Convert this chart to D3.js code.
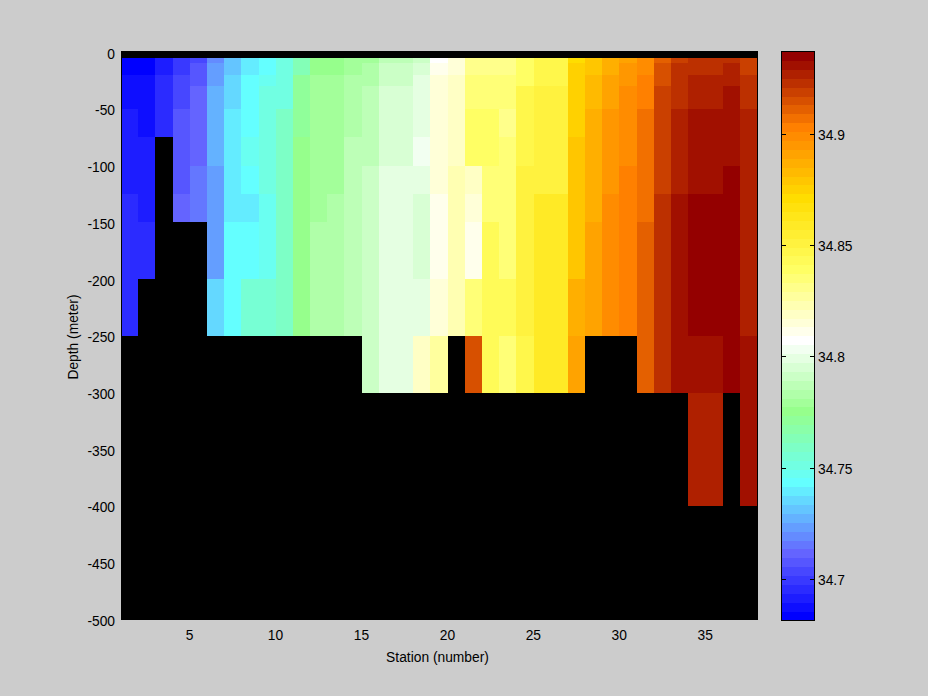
<!DOCTYPE html>
<html><head><meta charset="utf-8">
<script src="https://cdnjs.cloudflare.com/ajax/libs/d3/7.8.5/d3.min.js"></script>
<style>
html,body{margin:0;padding:0;background:#ccc;overflow:hidden}
svg{display:block}
text{font-family:"Liberation Sans",Arial,sans-serif;font-size:13.8px;fill:#000}
</style></head><body><svg id="c" width="928" height="696"></svg>
<script>
// Depth layer edges (metres); the first layer is empty
const depthEdges=[0,5,10,20,30,50,75,100,125,150,200,250,300,400,500];
const xTicks=[5,10,15,20,25,30,35];
const yTicks=[0,-50,-100,-150,-200,-250,-300,-350,-400,-450,-500];
const cbTicks=[34.7,34.75,34.8,34.85,34.9];
const salinityRange=[34.6817,34.9368];
const mapLevels=[0,7,15,23,31,39,47,55,63];
const mapColors=["#0000ff","#6464ff","#64ffff","#96ff8c","#ffffff","#ffff64","#ffdd00","#ff8000","#940000"];
// Salinity per station, top layer downward; null / missing = no data
const st1=[34.684,34.684,34.688,34.688,34.692,34.692,34.692,34.696,34.696,34.696];
const st2=[34.684,34.684,34.688,34.688,34.688,34.692,34.692,34.692,34.696];
const st3=[34.692,34.692,34.696,34.696,34.696];
const st4=[34.700,34.700,34.704,34.704,34.708,34.708,34.708,34.712];
const st5=[34.704,34.708,34.708,34.712,34.712,34.712,34.716,34.716];
const st6=[34.720,34.724,34.724,34.728,34.728,34.728,34.724,34.724,34.724,34.736];
const st7=[34.732,34.732,34.736,34.736,34.740,34.740,34.740,34.740,34.744,34.744];
const st8=[34.740,34.740,34.744,34.744,34.744,34.748,34.744,34.740,34.744,34.756];
const st9=[34.744,34.744,34.748,34.752,34.752,34.752,34.752,34.748,34.748,34.756];
const st10=[34.752,34.752,34.752,34.752,34.760,34.760,34.760,34.760,34.760,34.760];
const st11=[34.764,34.764,34.772,34.772,34.772,34.776,34.776,34.776,34.776,34.776];
const st12=[34.776,34.776,34.780,34.780,34.780,34.780,34.780,34.780,34.784,34.784];
const st13=[34.776,34.776,34.780,34.780,34.780,34.780,34.780,34.784,34.784,34.784];
const st14=[34.780,34.780,34.784,34.784,34.784,34.788,34.788,34.788,34.788,34.788];
const st15=[34.780,34.784,34.784,34.788,34.788,34.788,34.792,34.792,34.792,34.792,34.792];
const st16=[34.788,34.792,34.792,34.796,34.796,34.796,34.800,34.800,34.800,34.800,34.800];
const st17=[34.788,34.792,34.792,34.796,34.796,34.796,34.800,34.800,34.800,34.800,34.800];
const st18=[34.792,34.796,34.800,34.800,34.800,34.804,34.800,34.796,34.796,34.800,34.820];
const st19=[34.808,34.812,34.816,34.816,34.816,34.816,34.816,34.812,34.812,34.816,34.828];
const st20=[34.816,34.816,34.820,34.820,34.820,34.820,34.824,34.824,34.824,34.824,null];
const st21=[34.832,34.832,34.836,34.836,34.840,34.840,34.820,34.816,34.812,34.836,34.916];
const st22=[34.832,34.832,34.836,34.836,34.840,34.840,34.836,34.836,34.844,34.844,34.844];
const st23=[34.832,34.832,34.836,34.836,34.832,34.836,34.836,34.836,34.836,34.844,34.836];
const st24=[34.840,34.840,34.840,34.848,34.848,34.848,34.852,34.852,34.852,34.852,34.848];
const st25=[34.848,34.848,34.848,34.852,34.852,34.852,34.852,34.860,34.860,34.860,34.860];
const st26=[34.848,34.848,34.848,34.852,34.852,34.852,34.852,34.860,34.860,34.860,34.860];
const st27=[34.872,34.876,34.876,34.876,34.876,34.880,34.880,34.880,34.880,34.888,34.892];
const st28=[34.880,34.880,34.884,34.884,34.888,34.888,34.888,34.888,34.892,34.892];
const st29=[34.888,34.888,34.892,34.892,34.896,34.896,34.896,34.900,34.900,34.900];
const st30=[34.892,34.896,34.896,34.900,34.900,34.900,34.904,34.904,34.904,34.904];
const st31=[34.900,34.900,34.904,34.904,34.908,34.908,34.908,34.908,34.912,34.912,34.912];
const st32=[34.912,34.916,34.916,34.920,34.920,34.920,34.920,34.924,34.924,34.924,34.924];
const st33=[34.920,34.924,34.924,34.924,34.928,34.928,34.928,34.932,34.932,34.932,34.932];
const st34=[34.924,34.924,34.928,34.928,34.932,34.932,34.932,34.936,34.936,34.936,34.932,34.928];
const st35=[34.924,34.924,34.928,34.928,34.932,34.932,34.932,34.936,34.936,34.936,34.932,34.928];
const st36=[34.924,34.928,34.928,34.932,34.932,34.932,34.936,34.936,34.936,34.936,34.936];
const st37=[34.920,34.920,34.924,34.924,34.928,34.928,34.928,34.928,34.928,34.928,34.932,34.932];
const stations=[st1,st2,st3,st4,st5,st6,st7,st8,st9,st10,st11,st12,st13,st14,st15,st16,st17,st18,st19,st20,st21,st22,st23,st24,st25,st26,st27,st28,st29,st30,st31,st32,st33,st34,st35,st36,st37];

const svg=d3.select("#c");
const x=d3.scaleLinear().domain([1,38]).range([121,757]);
const y=d3.scaleLinear().domain([0,-500]).range([52,620]);
const yLabel=d3.scaleLinear().domain([0,-500]).range([53.8,621]);
const ramp=d3.scaleLinear().domain(mapLevels).range(mapColors).interpolate(d3.interpolateRgb);
const palette=d3.range(64).map(i=>ramp(i));
const color=d3.scaleQuantize().domain(salinityRange).range(palette);
const cbY=d3.scaleLinear().domain(salinityRange).range([620,51.7]);

// plot background shows where there is no data
svg.append("rect").attr("x",x(1)).attr("y",y(0)-1).attr("width",x(38)-x(1)).attr("height",y(-500)-y(0)+1).attr("fill","#000");

const cells=[];
stations.forEach((col,i)=>col.forEach((v,j)=>{if(v!=null)cells.push({i,j,v});}));
svg.append("g").attr("shape-rendering","crispEdges").selectAll("rect").data(cells).join("rect")
  .attr("x",d=>Math.round(x(d.i+1)))
  .attr("width",d=>Math.round(x(d.i+2))-Math.round(x(d.i+1)))
  .attr("y",d=>Math.round(y(-depthEdges[d.j+1])))
  .attr("height",d=>Math.round(y(-depthEdges[d.j+2]))-Math.round(y(-depthEdges[d.j+1])))
  .attr("fill",d=>color(d.v));

svg.append("rect").attr("x",x(1)+.5).attr("y",y(0)-.5).attr("width",x(38)-x(1)).attr("height",y(-500)-y(0))
  .attr("fill","none").attr("stroke","#000").attr("shape-rendering","crispEdges");

const gx=svg.append("g").attr("transform",`translate(-0.7,${y(-500)+0.5})`).call(d3.axisBottom(x).tickValues(xTicks).tickSize(0).tickPadding(10).tickFormat(d3.format("d")));
const gy=svg.append("g").attr("transform",`translate(${x(1)},0)`).call(d3.axisLeft(yLabel).tickValues(yTicks).tickSize(0).tickPadding(6).tickFormat(d=>String(d)));
[gx,gy].forEach(g=>{g.select(".domain").remove();g.selectAll("text").style("font-size","13.8px").style("font-family",'"Liberation Sans"');});

svg.append("text").attr("x",437.5).attr("y",662).attr("text-anchor","middle").text("Station (number)");
svg.append("text").attr("transform","translate(78,337) rotate(-90)").attr("text-anchor","middle").text("Depth (meter)");

// colour bar
const step=(salinityRange[1]-salinityRange[0])/64;
svg.append("g").attr("shape-rendering","crispEdges").selectAll("rect").data(palette).join("rect")
  .attr("x",781).attr("width",33)
  .attr("y",(d,i)=>cbY(salinityRange[0]+step*(i+1)))
  .attr("height",Math.abs(cbY(0)-cbY(step))+.5)
  .attr("fill",d=>d);
svg.append("rect").attr("x",781.5).attr("y",51.5).attr("width",33).attr("height",568.5)
  .attr("fill","none").attr("stroke","#000").attr("shape-rendering","crispEdges");
const cb=svg.append("g").selectAll("g").data(cbTicks).join("g").attr("transform",d=>`translate(0,${Math.round(cbY(d))+.5})`);
cb.append("line").attr("x1",782).attr("x2",786).attr("stroke","#000").attr("shape-rendering","crispEdges");
cb.append("line").attr("x1",810).attr("x2",814).attr("stroke","#000").attr("shape-rendering","crispEdges");
cb.append("text").attr("x",818).attr("y",5.5).text(d=>d3.format(".4~f")(d));
</script></body></html>
